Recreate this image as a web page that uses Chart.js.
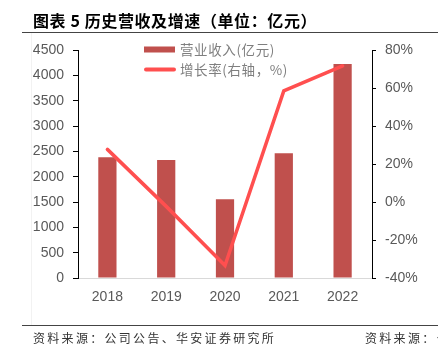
<!DOCTYPE html>
<html><head><meta charset="utf-8">
<script src="https://cdn.jsdelivr.net/npm/chart.js@4.4.1/dist/chart.umd.min.js"></script>
<style>html,body{margin:0;padding:0;background:#fff;}#wrap{width:438px;height:357px;position:relative;}</style>
</head><body><div id="wrap"><canvas id="c" width="438" height="357"></canvas></div>
<script>
const categories = ['2018','2019','2020','2021','2022'];
const revenue = [2382, 2329, 1553, 2461, 4223];
const growth = [27.7, -2.3, -33.4, 58.5, 71.6];
const revenueLabel = '营业收入(亿元)';
const growthLabel = '增长率(右轴，%)';
const leftTicks = {min:0, max:4500, step:500};
const rightTicks = {min:-40, max:80, step:20};
const titleText = '图表 5 历史营收及增速（单位：亿元）';
const sourceText = '资料来源：公司公告、华安证券研究所';
const sourceText2 = '资料来源：公';

const decor = {
  id:'decor',
  beforeDraw(chart){
    const ctx = chart.ctx;
    ctx.save();
    ctx.fillStyle='#fff'; ctx.fillRect(0,0,438,357);
    ctx.strokeStyle='#f2f2f2'; ctx.lineWidth=1;
    ctx.beginPath(); ctx.moveTo(31.5,33); ctx.lineTo(31.5,325); ctx.stroke();
    ctx.fillStyle='#000';
    ctx.font='bold 16px "Noto Sans CJK SC"';
    ctx.letterSpacing='0.6px';
    ctx.textBaseline='middle';
    ctx.fillText(titleText, 33, 21);
    ctx.strokeStyle='#444'; ctx.lineWidth=1.2;
    ctx.beginPath(); ctx.moveTo(22,32.5); ctx.lineTo(438,32.5); ctx.stroke();
    ctx.beginPath(); ctx.moveTo(22,325.5); ctx.lineTo(438,325.5); ctx.stroke();
    ctx.fillStyle='#333';
    ctx.font='12px "Noto Sans CJK SC"';
    ctx.letterSpacing='2.3px';
    ctx.fillText(sourceText, 33, 338);
    ctx.fillText(sourceText2, 365, 338);
    ctx.restore();
  },
  afterDraw(chart){
    const ctx = chart.ctx;
    const ds = chart.data.datasets;
    ctx.save();
    ctx.fillStyle = ds[0].backgroundColor;
    ctx.fillRect(144,46.5,31,6);
    ctx.strokeStyle = ds[1].borderColor;
    ctx.lineWidth=4; ctx.lineCap='round';
    ctx.beginPath(); ctx.moveTo(146,69.5); ctx.lineTo(174,69.5); ctx.stroke();
    ctx.fillStyle='#7f7f7f';
    ctx.font='13.5px "Noto Sans CJK SC"';
    ctx.letterSpacing='0.6px';
    ctx.textBaseline='middle';
    ctx.fillText(ds[0].label, 180, 49.5);
    ctx.fillText(ds[1].label, 180, 70);
    ctx.restore();
  }
};

new Chart(document.getElementById('c'), {
  data:{
    labels: categories,
    datasets:[
      {type:'bar', label:revenueLabel, data:revenue, backgroundColor:'#C0504D', yAxisID:'y', order:1,
       barPercentage:0.31, categoryPercentage:1},
      {type:'line', label:growthLabel, data:growth, borderColor:'#FF4F4F', borderWidth:3.5,
       pointRadius:0, tension:0, yAxisID:'y1', order:0, borderCapStyle:'round'}
    ]
  },
  options:{
    responsive:false, animation:false,
    layout:{padding:{left:0,right:0,top:50,bottom:0}},
    plugins:{legend:{display:false}, tooltip:{enabled:false}},
    scales:{
      x:{
        grid:{display:false, drawTicks:false},
        border:{display:true, color:'#d9d9d9', width:1},
        ticks:{color:'#595959', font:{family:'"Liberation Sans", Arial', size:14}, padding:11, maxRotation:0},
        afterFit(s){ s.height = 79; }
      },
      y:{
        position:'left', min:leftTicks.min, max:leftTicks.max,
        grid:{drawOnChartArea:false, drawTicks:true, tickLength:5, color:'#000'},
        border:{display:true, color:'#000', width:1},
        ticks:{stepSize:leftTicks.step, color:'#595959', font:{family:'"Liberation Sans", Arial', size:14}, padding:9,
          callback:v=>String(v)},
        afterFit(s){ s.width = 78; }
      },
      y1:{
        position:'right', min:rightTicks.min, max:rightTicks.max,
        grid:{drawOnChartArea:false, drawTicks:true, tickLength:4, color:'#000'},
        border:{display:true, color:'#000', width:1},
        ticks:{stepSize:rightTicks.step, color:'#595959', font:{family:'"Liberation Sans", Arial', size:14}, padding:9,
          callback:v=>v+'%'},
        afterFit(s){ s.width = 66; }
      }
    }
  },
  plugins:[decor]
});
</script></body></html>
